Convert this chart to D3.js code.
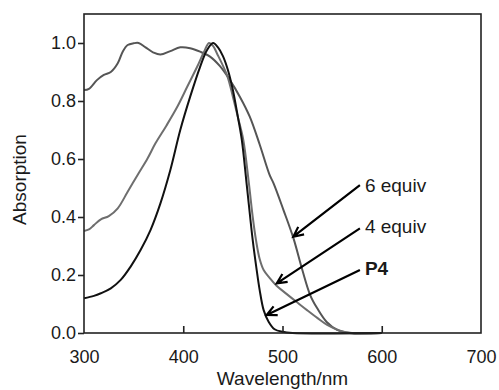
<!DOCTYPE html>
<html>
<head>
<meta charset="utf-8">
<script src="https://cdn.jsdelivr.net/npm/d3@7"></script>
<style>
  body { margin: 0; background: #fff; }
  svg text { font-family: "Liberation Sans", Arial, sans-serif; fill: #1a1a1a; }
</style>
</head>
<body>
<svg width="499" height="390"></svg>
<script>
// spectra (wavelength nm, normalised absorption)
var p4Wl = [300, 310, 317, 327, 337, 347, 357, 367, 377, 387, 397, 407, 417, 424, 430, 435, 440, 445, 450, 455, 459, 464, 470, 474, 477, 481, 486, 492, 500, 510, 600]
var p4Abs = [0.12, 0.128, 0.137, 0.154, 0.183, 0.229, 0.286, 0.355, 0.447, 0.562, 0.70, 0.815, 0.918, 0.976, 1.0, 0.985, 0.955, 0.907, 0.838, 0.746, 0.666, 0.51, 0.32, 0.217, 0.148, 0.079, 0.039, 0.013, 0.004, 0, 0]

var eq4Wl = [300, 305, 310, 317, 325, 334, 344, 354, 364, 372, 383, 394, 404, 414, 421, 426, 430, 434, 444, 450, 455, 460.5, 466, 470, 473.3, 477, 481, 487, 494, 504, 515, 525, 535, 545, 558, 570, 600]
var eq4Abs = [0.352, 0.357, 0.372, 0.392, 0.403, 0.43, 0.487, 0.545, 0.602, 0.654, 0.715, 0.78, 0.849, 0.918, 0.97, 1.0, 0.99, 0.964, 0.89, 0.815, 0.745, 0.666, 0.52, 0.40, 0.32, 0.255, 0.217, 0.19, 0.163, 0.135, 0.105, 0.078, 0.052, 0.028, 0.008, 0, 0]

var eq6Wl = [300, 305, 313, 320, 327, 334, 339, 344, 350, 355, 362, 370, 377, 387, 397, 407, 417, 427, 437, 447, 457, 467, 477, 487, 491, 501, 511, 520, 528, 535, 544.5, 555, 568, 600]
var eq6Abs = [0.838, 0.842, 0.872, 0.89, 0.90, 0.93, 0.97, 0.993, 0.999, 1.0, 0.985, 0.967, 0.96, 0.972, 0.985, 0.982, 0.97, 0.953, 0.92, 0.872, 0.815, 0.746, 0.65, 0.545, 0.516, 0.424, 0.327, 0.217, 0.13, 0.085, 0.038, 0.011, 0, 0]

var xTicks = [300, 400, 500, 600, 700]
var yTicks = [0, 0.2, 0.4, 0.6, 0.8, 1.0]

// annotation arrows: label, label anchor, arrow start, arrow tip
var labels = ["6 equiv", "4 equiv", "P4"]
var labelPos = [[583, 0.486], [583, 0.345], [583, 0.2]]
var arrowFrom = [[578, 0.51], [578, 0.361], [578, 0.217]]
var arrowTo = [[510.9, 0.332], [494.2, 0.171], [484.1, 0.062]]

var svg = d3.select("svg")
var width = +svg.attr("width")
var height = +svg.attr("height")
var margin = { top: 14, right: 18, bottom: 57, left: 84 }
var w = width - margin.left - margin.right
var h = height - margin.top - margin.bottom

var g = svg.append("g").attr("transform", "translate(" + margin.left + "," + margin.top + ")")

var x = d3.scaleLinear().domain([300, 700]).range([0, w])
var y = d3.scaleLinear().domain([0, 1.1]).range([h, 0])

var line = d3.line()
    .x(d => x(d[0]))
    .y(d => y(d[1]))
    .curve(d3.curveCatmullRom.alpha(0.5))

var series = [
    { wl: eq6Wl, abs: eq6Abs, color: "#555555" },
    { wl: eq4Wl, abs: eq4Abs, color: "#6e6e6e" },
    { wl: p4Wl, abs: p4Abs, color: "#111111" }
]

series.forEach(function(s) {
    g.append("path")
        .datum(s.wl.map((v, i) => [v, s.abs[i]]))
        .attr("d", line)
        .attr("fill", "none")
        .attr("stroke", s.color)
        .attr("stroke-width", 2)
})

// frame
g.append("rect")
    .attr("width", w).attr("height", h)
    .attr("fill", "none")
    .attr("stroke", "#222")
    .attr("stroke-width", 1.6)

// x ticks point inward
var xAxis = g.append("g").attr("transform", "translate(0," + h + ")")
    .call(d3.axisBottom(x).tickValues(xTicks).tickSize(-7).tickPadding(17).tickFormat(d3.format("d")))
xAxis.select(".domain").remove()
xAxis.selectAll("line").attr("stroke", "#222").attr("stroke-width", 1.6)
    .filter(d => d === 300 || d === 700).remove()
xAxis.selectAll("text").style("font-size", "18px").attr("fill", "#1a1a1a")

var yAxis = g.append("g")
    .call(d3.axisLeft(y).tickValues(yTicks).tickSize(6).tickPadding(2).tickFormat(d3.format(".1f")))
yAxis.select(".domain").remove()
yAxis.selectAll("line").attr("stroke", "#222").attr("stroke-width", 1.6)
yAxis.selectAll("text").style("font-size", "18px").attr("fill", "#1a1a1a")

svg.append("text")
    .attr("x", margin.left + w / 2)
    .attr("y", 385)
    .attr("text-anchor", "middle")
    .style("font-size", "19px")
    .text("Wavelength/nm")

svg.append("text")
    .attr("transform", "translate(26," + (margin.top + h / 2 + 6) + ") rotate(-90)")
    .attr("text-anchor", "middle")
    .style("font-size", "19px")
    .text("Absorption")

// arrows and labels
labels.forEach(function(lbl, i) {
    var x0 = x(arrowFrom[i][0]), y0 = y(arrowFrom[i][1])
    var x1 = x(arrowTo[i][0]), y1 = y(arrowTo[i][1])
    var ang = Math.atan2(y0 - y1, x0 - x1)
    var len = 11, spread = 0.45
    var hx1 = x1 + len * Math.cos(ang + spread), hy1 = y1 + len * Math.sin(ang + spread)
    var hx2 = x1 + len * Math.cos(ang - spread), hy2 = y1 + len * Math.sin(ang - spread)
    g.append("path")
        .attr("d", "M" + x0 + "," + y0 + "L" + x1 + "," + y1 + "M" + hx1 + "," + hy1 + "L" + x1 + "," + y1 + "L" + hx2 + "," + hy2)
        .attr("fill", "none")
        .attr("stroke", "#000")
        .attr("stroke-width", 2.2)
    g.append("text")
        .attr("x", x(labelPos[i][0]))
        .attr("y", y(labelPos[i][1]))
        .style("font-size", "19px")
        .style("font-weight", lbl === "P4" ? "bold" : "normal")
        .text(lbl)
})
</script>
</body>
</html>
